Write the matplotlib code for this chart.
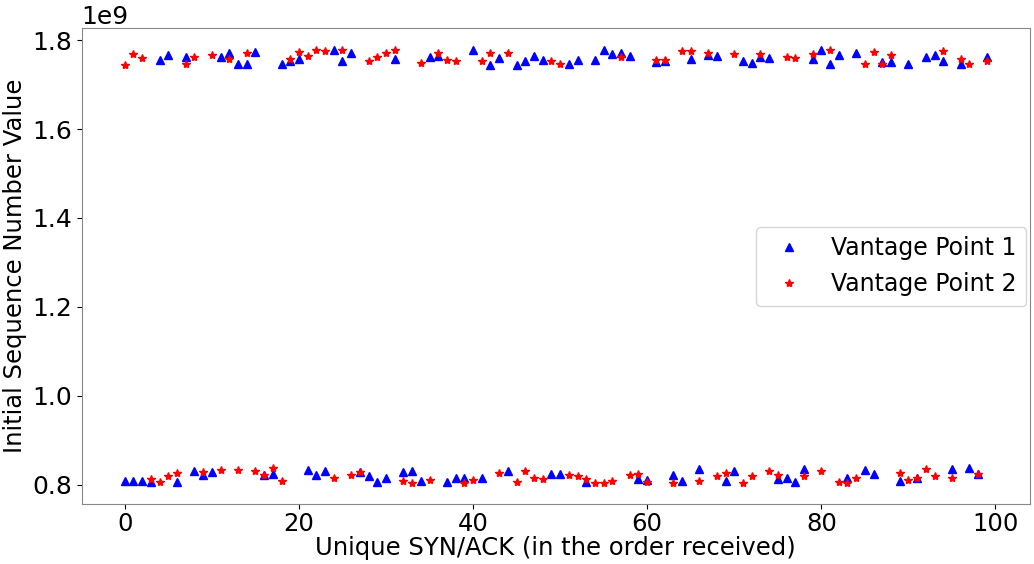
import numpy as np
import matplotlib
matplotlib.use('Agg')
import matplotlib.pyplot as plt

# ISN values, in units of 1e9
vp1 = [0.809, 0.809, 0.809, 0.806, 1.756, 1.767, 0.807, 1.761, 0.830, 0.821,
       0.828, 1.762, 1.770, 1.746, 1.746, 1.773, 0.821, 0.824, 1.746, 1.753,
       1.758, 0.833, 0.821, 0.830, 1.777, 1.754, 1.770, 0.828, 0.819, 0.807,
       0.816, 1.757, 0.828, 0.830, 0.809, 1.763, 1.764, 0.807, 0.816, 0.816,
       1.778, 0.816, 1.744, 1.759, 0.832, 1.744, 1.754, 1.764, 1.756, 0.824,
       0.824, 1.746, 1.756, 0.807, 1.756, 1.778, 1.768, 1.770, 1.764, 0.813,
       0.811, 1.750, 1.752, 0.822, 0.809, 1.757, 0.835, 1.767, 1.764, 0.809,
       0.830, 1.753, 1.748, 1.761, 1.759, 0.813, 0.815, 0.806, 0.836, 1.758,
       1.778, 1.747, 1.767, 0.815, 1.770, 0.833, 0.824, 1.750, 1.750, 0.809,
       1.746, 0.816, 1.761, 1.767, 1.753, 0.836, 1.747, 0.837, 0.824, 1.761]

vp2 = [1.744, 1.768, 1.759, 0.813, 0.807, 0.820, 0.827, 1.747, 1.761, 0.828,
       1.767, 0.833, 1.758, 0.833, 1.770, 0.831, 0.821, 0.837, 0.809, 1.758,
       1.773, 1.764, 1.778, 1.775, 0.815, 1.778, 0.821, 0.828, 1.752, 1.761,
       1.770, 1.778, 0.809, 0.805, 1.748, 0.811, 1.772, 1.756, 1.754, 0.805,
       0.811, 1.752, 1.772, 0.826, 1.772, 0.807, 0.831, 0.816, 0.813, 1.753,
       1.746, 0.821, 0.819, 0.813, 0.805, 0.805, 0.809, 1.763, 0.821, 0.824,
       0.806, 1.756, 1.756, 0.805, 1.776, 1.776, 0.809, 1.772, 0.819, 0.826,
       1.769, 0.805, 0.819, 1.769, 0.832, 0.821, 1.761, 1.759, 0.819, 1.769,
       0.831, 1.778, 0.807, 0.805, 0.816, 1.747, 1.773, 1.746, 1.767, 0.826,
       0.811, 0.816, 0.836, 0.820, 1.775, 0.815, 1.758, 1.746, 0.824, 1.752]

x = np.arange(len(vp1))
vp1 = np.array(vp1) * 1e9
vp2 = np.array(vp2) * 1e9

plt.rcParams['font.size'] = 18

fig = plt.figure(figsize=(10.34, 5.64), dpi=100)
ax = fig.add_subplot(111)
fig.subplots_adjust(left=0.079, right=0.996, top=0.950, bottom=0.106)

ax.plot(x, vp1, '^', color='blue', markersize=6, linestyle='none', label='Vantage Point 1')
ax.plot(x, vp2, '*', color='red', markersize=6, linestyle='none', label='Vantage Point 2')

ax.tick_params(axis='x', pad=2, labelsize=17.5)
ax.set_xlabel('Unique SYN/ACK (in the order received)', fontsize=17.5, labelpad=0)
ax.set_ylabel('Initial Sequence Number Value', fontsize=17.5)
ax.legend(loc='center right', numpoints=1, fontsize=17, borderaxespad=0.15)

for s in ax.spines.values():
    s.set_color('#888888')

fig.savefig('out.png', dpi=100)
